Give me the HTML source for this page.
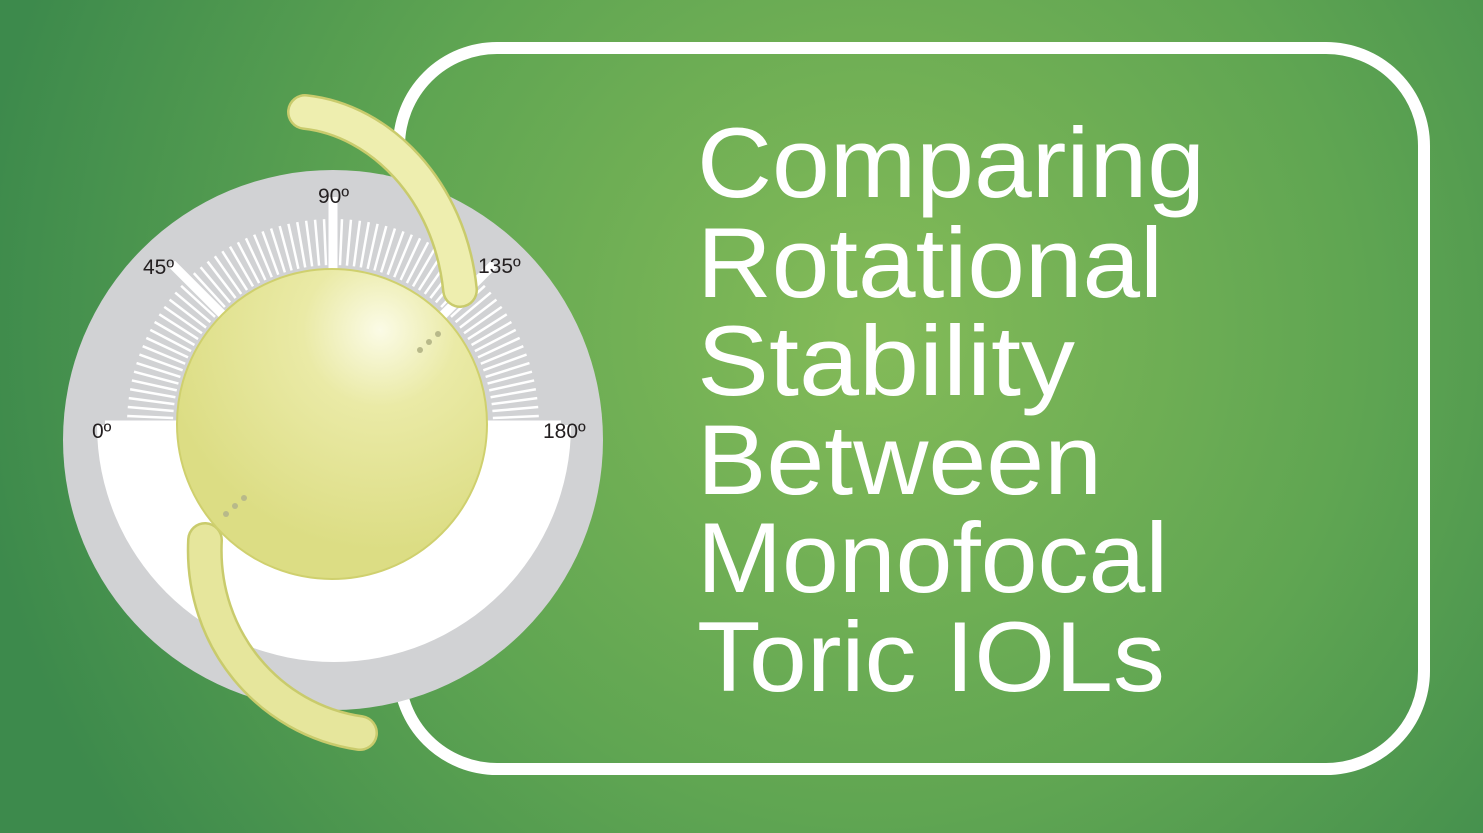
<!DOCTYPE html>
<html><head><meta charset="utf-8"><style>
html,body{margin:0;padding:0;width:1483px;height:833px;overflow:hidden}
svg{display:block}
</style></head><body>
<svg id="s" width="1483" height="833" viewBox="0 0 1483 833" xmlns="http://www.w3.org/2000/svg">
<defs>
<radialGradient id="bg" cx="870" cy="330" r="900" gradientUnits="userSpaceOnUse">
<stop offset="0" stop-color="#84bb58"/><stop offset="0.55" stop-color="#5fa552"/><stop offset="1" stop-color="#3d8a4c"/>
</radialGradient>
<radialGradient id="lens" cx="380" cy="330" r="220" gradientUnits="userSpaceOnUse">
<stop offset="0" stop-color="#fbfbe6"/><stop offset="0.35" stop-color="#eaeaa6"/><stop offset="1" stop-color="#dcdd84"/>
</radialGradient>
</defs>
<rect width="1483" height="833" fill="url(#bg)"/>
<rect x="399" y="48" width="1025" height="721" rx="98" fill="none" stroke="#fff" stroke-width="12"/>
<circle cx="333" cy="440" r="270" fill="#d1d2d4"/>
<path d="M97 425 A237 237 0 0 0 571 425 Z" fill="#fff"/>
<g id="ticks" stroke="#fff"></g>
<g font-family="Liberation Sans, sans-serif" font-size="21" fill="#231f20">
<text x="92" y="438">0º</text>
<text x="143" y="274">45º</text>
<text x="318" y="203">90º</text>
<text x="478" y="273">135º</text>
<text x="543" y="438">180º</text>
</g>
<path d="M305 112 C380 120 450 190 460 290" fill="none" stroke="#c9cb6c" stroke-width="36" stroke-linecap="round"/>
<path d="M305 112 C380 120 450 190 460 290" fill="none" stroke="#eeeeaf" stroke-width="31" stroke-linecap="round"/>
<path d="M205 540 C200 640 270 720 360 733" fill="none" stroke="#c9cb6c" stroke-width="36" stroke-linecap="round"/>
<path d="M205 540 C200 640 270 720 360 733" fill="none" stroke="#e6e69c" stroke-width="31" stroke-linecap="round"/>
<circle cx="332" cy="424" r="155" fill="url(#lens)" stroke="#cfd06e" stroke-width="2"/>
<g fill="#b8b98a"><circle cx="420" cy="350" r="3"/><circle cx="429" cy="342" r="3"/><circle cx="438" cy="334" r="3"/>
<circle cx="226" cy="514" r="3"/><circle cx="235" cy="506" r="3"/><circle cx="244" cy="498" r="3"/></g>
<g font-family="Liberation Sans, sans-serif" font-size="99" fill="#fff">
<text x="697" y="197" textLength="508" lengthAdjust="spacingAndGlyphs">Comparing</text>
<text x="697" y="297" textLength="466" lengthAdjust="spacingAndGlyphs">Rotational</text>
<text x="697" y="395" textLength="378" lengthAdjust="spacingAndGlyphs">Stability</text>
<text x="697" y="494" textLength="405" lengthAdjust="spacingAndGlyphs">Between</text>
<text x="697" y="592" textLength="471" lengthAdjust="spacingAndGlyphs">Monofocal</text>
<text x="697" y="691" textLength="468" lengthAdjust="spacingAndGlyphs">Toric IOLs</text>
</g>
</svg>
<script>
var g=document.getElementById('ticks'),cx=333,cy=425,s='';
function ln(a,r1,r2,w){var r=a*Math.PI/180,c=Math.cos(r),sn=Math.sin(r);
s+='<line x1="'+(cx-c*r1)+'" y1="'+(cy-sn*r1)+'" x2="'+(cx-c*r2)+'" y2="'+(cy-sn*r2)+'" stroke-width="'+w+'"/>';}
for(var a=0;a<=180;a+=2.5){ln(a,160,206,2.5);}
[0,45,90,135,180].forEach(function(a){ln(a,150,228,9);});
g.innerHTML=s;
</script>
</body></html>
